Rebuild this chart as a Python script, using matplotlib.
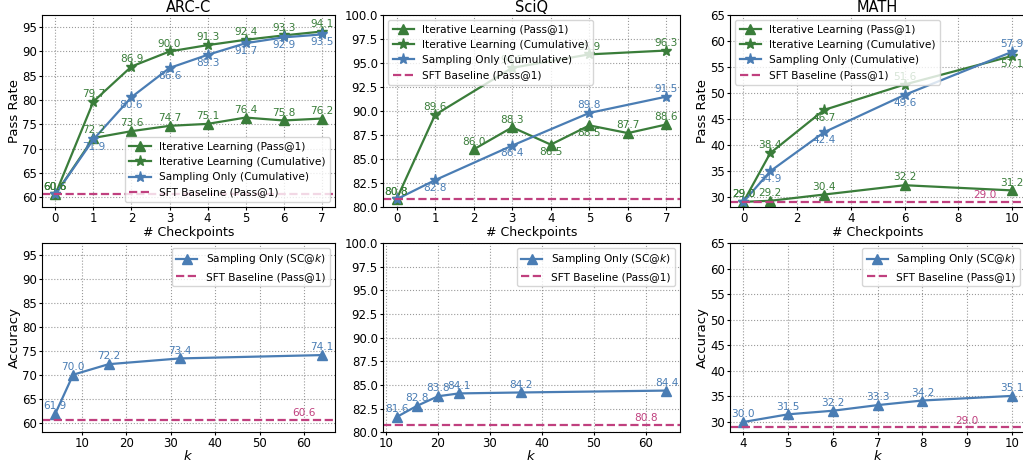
import matplotlib
matplotlib.use("Agg")
import matplotlib.pyplot as plt
import numpy as np

# colours
GREEN = "#3a7d3a"
BLUE = "#4a7db4"
PINK = "#c0407f"

# --- top row: pass rate vs checkpoints ---
arc_ckpt = [0, 1, 2, 3, 4, 5, 6, 7]
arc_pass1 = [60.6, 72.2, 73.6, 74.7, 75.1, 76.4, 75.8, 76.2]
arc_cum = [60.6, 79.7, 86.9, 90.0, 91.3, 92.4, 93.3, 94.1]
arc_samp = [60.6, 71.9, 80.6, 86.6, 89.3, 91.7, 92.9, 93.5]
arc_sft = 60.6

sciq_ckpt = [0, 1, 2, 3, 4, 5, 6, 7]
sciq_pass1 = [80.8, np.nan, 86.0, 88.3, 86.5, 88.5, 87.7, 88.6]
sciq_ckpt_cum = [0, 1, 3, 5, 7]
sciq_cum = [80.8, 89.6, 94.5, 95.9, 96.3]
sciq_samp = [80.8, 82.8, 86.4, 89.8, 91.5]
sciq_sft = 80.8

math_ckpt = [0, 1, 3, 6, 10]
math_pass1 = [29.0, 29.2, 30.4, 32.2, 31.2]
math_cum = [29.0, 38.4, 46.7, 51.6, 57.1]
math_samp = [29.0, 34.9, 42.4, 49.6, 57.9]
math_sft = 29.0

# --- bottom row: SC@k accuracy ---
arc_k = [4, 8, 16, 32, 64]
arc_sc = [61.9, 70.0, 72.2, 73.4, 74.1]
sciq_k = [12, 16, 20, 24, 36, 64]
sciq_sc = [81.6, 82.8, 83.8, 84.1, 84.2, 84.4]
math_k = [4, 5, 6, 7, 8, 10]
math_sc = [30.0, 31.5, 32.2, 33.3, 34.2, 35.1]

# label above (+1) or below (-1) each point
arc_p1_side = [1] * 8
arc_cum_side = [1] * 8
arc_samp_side = [0, -1, -1, -1, -1, -1, -1, -1]
sciq_p1_side = [0, 0, 1, 1, -1, -1, 1, 1]
sciq_cum_side = [1, 1, 1, 1, 1]
sciq_samp_side = [0, -1, -1, 1, 1]
math_p1_side = [1, 1, 1, 1, 1]
math_cum_side = [0, 1, -1, 1, -1]
math_samp_side = [0, -1, -1, -1, 1]

plt.rcParams["font.family"] = "DejaVu Sans"
fig, axes = plt.subplots(2, 3, figsize=(10.23, 4.63), dpi=100)

pos = [[0.0411, 0.5529, 0.2864, 0.4147], [0.3744, 0.5529, 0.2903, 0.4147], [0.7136, 0.5529, 0.2888, 0.4147],
       [0.0411, 0.0665, 0.2864, 0.4087], [0.3744, 0.0665, 0.2903, 0.4087], [0.7136, 0.0665, 0.2888, 0.4087]]
for a, p in zip(axes.flat, pos):
    a.set_position(p)

ANN = 7.6


def label(ax, xs, ys, sides, color):
    for x, y, s in zip(xs, ys, sides):
        if s == 0 or np.isnan(y):
            continue
        off = 2 if s > 0 else -2
        ax.annotate(f"{y:.1f}", (x, y), xytext=(0, off), textcoords="offset points",
                    ha="center", va="bottom" if s > 0 else "top", color=color, fontsize=ANN)


def top_panel(ax, title, xs, p1, xs_cum, cum, samp, sft, p1s, cums, samps, legloc, sft_x=None):
    xs = np.array(xs, dtype=float)
    ax.plot(xs, p1, marker="^", ms=7, lw=1.6, color=GREEN, label="Iterative Learning (Pass@1)")
    ax.plot(xs_cum, cum, marker="*", ms=8, lw=1.6, color=GREEN, label="Iterative Learning (Cumulative)")
    ax.plot(xs_cum, samp, marker="*", ms=8, lw=1.6, color=BLUE, label="Sampling Only (Cumulative)")
    ax.axhline(sft, color=PINK, ls="--", lw=1.6, label="SFT Baseline (Pass@1)")
    label(ax, xs, p1, p1s, GREEN)
    label(ax, xs_cum, cum, cums, GREEN)
    label(ax, xs_cum, samp, samps, BLUE)
    ax.annotate(f"{p1[0]:.1f}", (xs[0], p1[0]), xytext=(0, 2), textcoords="offset points",
                ha="center", va="bottom", color=GREEN, fontsize=ANN)
    if sft_x is not None:
        ax.annotate(f"{sft:.1f}", (sft_x, sft), xytext=(0, 1), textcoords="offset points",
                    ha="center", va="bottom", color=PINK, fontsize=ANN)
    ax.set_title(title, fontsize=10.5, pad=2)
    ax.set_xlabel("# Checkpoints", fontsize=9, labelpad=0.5)
    leg = ax.legend(loc=legloc, fontsize=7.6)
    leg.set_zorder(10)


def bottom_panel(ax, ks, sc, sft, sft_x):
    ax.plot(ks, sc, marker="^", ms=7, lw=1.6, color=BLUE, label="Sampling Only (SC@$k$)")
    ax.axhline(sft, color=PINK, ls="--", lw=1.6, label="SFT Baseline (Pass@1)")
    label(ax, ks, sc, [1] * len(ks), BLUE)
    ax.annotate(f"{sft:.1f}", (sft_x, sft), xytext=(0, 1), textcoords="offset points",
                ha="center", va="bottom", color=PINK, fontsize=ANN)
    ax.set_xlabel("$k$", fontsize=9.5, labelpad=-1)
    ax.legend(loc="upper right", fontsize=7.6)


top_panel(axes[0, 0], "ARC-C", arc_ckpt, arc_pass1, arc_ckpt, arc_cum, arc_samp, arc_sft,
          arc_p1_side, arc_cum_side, arc_samp_side, "lower right")
top_panel(axes[0, 1], "SciQ", sciq_ckpt, sciq_pass1, sciq_ckpt_cum, sciq_cum, sciq_samp, sciq_sft,
          sciq_p1_side, sciq_cum_side, sciq_samp_side, "upper left")
top_panel(axes[0, 2], "MATH", math_ckpt, math_pass1, math_ckpt, math_cum, math_samp, math_sft,
          math_p1_side, math_cum_side, math_samp_side, "upper left", sft_x=9)
axes[0, 0].set_ylim(58, 97.5)
axes[0, 1].set_ylim(80, 100)
axes[0, 2].set_ylim(28, 65)
axes[0, 0].set_ylabel("Pass Rate", fontsize=9.5, labelpad=1)
axes[0, 2].set_ylabel("Pass Rate", fontsize=9.5, labelpad=1)

bottom_panel(axes[1, 0], arc_k, arc_sc, arc_sft, 60)
bottom_panel(axes[1, 1], sciq_k, sciq_sc, sciq_sft, 60)
bottom_panel(axes[1, 2], math_k, math_sc, math_sft, 9)
axes[1, 0].set_ylim(58, 97.5)
axes[1, 1].set_ylim(80, 100)
axes[1, 2].set_ylim(28, 65)
axes[1, 0].set_ylabel("Accuracy", fontsize=9.5, labelpad=1)
axes[1, 2].set_ylabel("Accuracy", fontsize=9.5, labelpad=1)

for a in axes.flat:
    a.grid(True, ls=":", color="gray", alpha=0.8, lw=0.8)
    a.tick_params(labelsize=8.5, length=2.5, pad=1.2)
axes[1, 0].set_yticks([60, 65, 70, 75, 80, 85, 90, 95])
axes[0, 0].set_yticks([60, 65, 70, 75, 80, 85, 90, 95])

fig.savefig("out.png", dpi=100)
